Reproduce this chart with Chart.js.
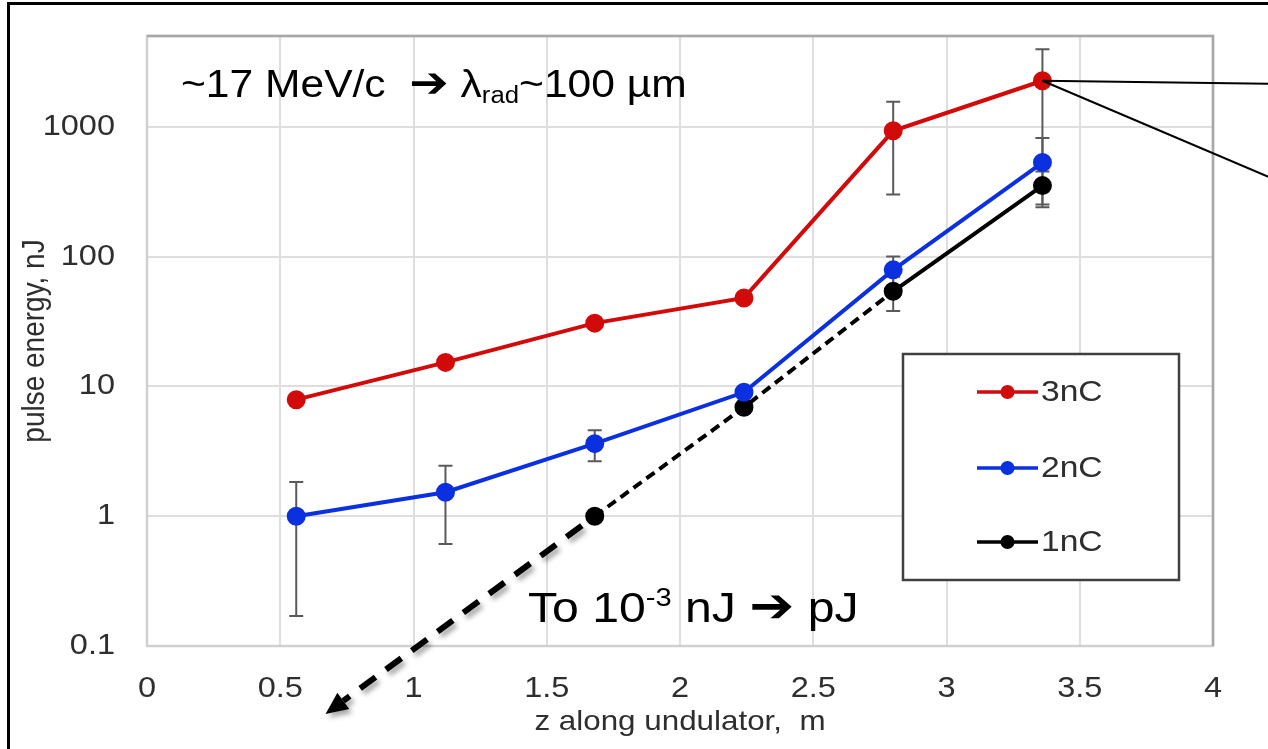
<!DOCTYPE html>
<html>
<head>
<meta charset="utf-8">
<script src="https://cdn.jsdelivr.net/npm/chart.js@4.4.1/dist/chart.umd.min.js"></script>
<style>
  html, body { margin: 0; padding: 0; background: #fff; }
  #wrap { position: relative; width: 1268px; height: 749px; }
</style>
</head>
<body>
<div id="wrap"><canvas id="chart" width="1268" height="749"></canvas></div>
<script>
// positions along the undulator (m)
const zValues = [0.56, 1.12, 1.68, 2.24, 2.80, 3.36];
const z1nC = [1.68, 2.24, 2.80, 3.36];

// pulse energy (nJ) and error bars
const energy3nC = [7.9, 15.3, 30.7, 48, 930, 2260];
const energy2nC = [1.0, 1.53, 3.62, 9.0, 79, 530];
const energy1nC = [1.0, 6.9, 54, 352];
const err3nC = [0, 0, 0, 0, 630, 1700];
const err2nC = [0.83, 0.92, 0.97, 0, 21, 290];
const err1nC = [0, 0, 16, 100];

const seriesLabels = ['3nC', '2nC', '1nC'];
const seriesColors = ['#d20a0a', '#0a30e0', '#000000'];

const xTicks = [0, 0.5, 1, 1.5, 2, 2.5, 3, 3.5, 4];
const yTicks = [0.1, 1, 10, 100, 1000];

// annotation anchors (data coordinates)
const extrapFrom = { x: 1.68, y: 1 };
const extrapTo = { x: 0.67, y: 0.03 };
const calloutEnds = [{ x: 4.21, y: 2140 }, { x: 4.21, y: 410 }];

const FONT = '"Liberation Sans", Arial, sans-serif';
const ARROW_FONT = '"DejaVu Sans", sans-serif';
const TEXT_STRETCH = 1.12;   // the source picture is slightly wider than tall
const AXIS_TEXT = '#2e2e2e';

const canvas = document.getElementById('chart');
const ctx2d = canvas.getContext('2d');
// stretch all text horizontally a bit, around its anchor point
const rawFillText = ctx2d.fillText.bind(ctx2d);
ctx2d.fillText = function (text, x, y, maxWidth) {
  const m = ctx2d.getTransform();
  const px = m.a * x + m.c * y + m.e;
  ctx2d.save();
  ctx2d.setTransform(new DOMMatrix([TEXT_STRETCH, 0, 0, 1, px * (1 - TEXT_STRETCH), 0]).multiply(m));
  if (maxWidth === undefined) rawFillText(text, x, y);
  else rawFillText(text, x, y, maxWidth);
  ctx2d.restore();
};

function toPoints(xs, ys) {
  return xs.map((x, i) => ({ x: x, y: ys[i] }));
}

function drawRuns(ctx, x, y, runs) {
  let cx = x;
  for (const r of runs) {
    ctx.font = (r.bold ? 'bold ' : '') + r.size + 'px ' + (r.family || FONT);
    ctx.fillText(r.text, cx, y - (r.raise || 0));
    cx += ctx.measureText(r.text).width * TEXT_STRETCH;
  }
}

const annotations = {
  id: 'annotations',
  beforeDatasetsDraw(chart) {
    const { ctx, chartArea: a, scales: { x, y } } = chart;
    ctx.save();
    // plot area frame
    ctx.lineWidth = 2.5;
    ctx.strokeStyle = '#d0d0d0';
    ctx.strokeRect(a.left, a.top, a.right - a.left, a.bottom - a.top);
    ctx.strokeStyle = '#a8a8a8';
    ctx.beginPath();
    ctx.moveTo(a.left, a.top);
    ctx.lineTo(a.right, a.top);
    ctx.lineTo(a.right, a.bottom);
    ctx.stroke();

    // error bars
    ctx.strokeStyle = '#5a5a5a';
    ctx.lineWidth = 2;
    chart.data.datasets.forEach(ds => {
      ds.data.forEach((p, i) => {
        const e = ds.errors[i];
        if (!e) return;
        const px = x.getPixelForValue(p.x);
        const top = y.getPixelForValue(p.y + e);
        const bot = y.getPixelForValue(p.y - e);
        ctx.beginPath();
        ctx.moveTo(px, top); ctx.lineTo(px, bot);
        ctx.moveTo(px - 7, top); ctx.lineTo(px + 7, top);
        ctx.moveTo(px - 7, bot); ctx.lineTo(px + 7, bot);
        ctx.stroke();
      });
    });

    // extrapolation arrow with shadow
    const x0 = x.getPixelForValue(extrapFrom.x), y0 = y.getPixelForValue(extrapFrom.y);
    const x1 = x.getPixelForValue(extrapTo.x), y1 = y.getPixelForValue(extrapTo.y);
    const ang = Math.atan2(y1 - y0, x1 - x0);
    const c = Math.cos(ang), s = Math.sin(ang);
    const head = 22;
    const bx = x1 - c * head, by = y1 - s * head;
    ctx.shadowColor = 'rgba(0,0,0,0.35)';
    ctx.shadowBlur = 5;
    ctx.shadowOffsetX = 3;
    ctx.shadowOffsetY = 4;
    ctx.strokeStyle = '#000';
    ctx.fillStyle = '#000';
    ctx.lineWidth = 6;
    ctx.setLineDash([19, 13]);
    ctx.beginPath();
    ctx.moveTo(x0 + c * 16, y0 + s * 16);
    ctx.lineTo(bx, by);
    ctx.stroke();
    ctx.setLineDash([]);
    ctx.beginPath();
    ctx.moveTo(x1, y1);
    ctx.lineTo(bx - s * 10, by + c * 10);
    ctx.lineTo(bx + s * 10, by - c * 10);
    ctx.closePath();
    ctx.fill();
    ctx.restore();
  },
  afterDatasetsDraw(chart) {
    const { ctx, scales: { x, y } } = chart;
    const last = chart.data.datasets[0].data[zValues.length - 1];
    const px = x.getPixelForValue(last.x), py = y.getPixelForValue(last.y);
    ctx.save();
    ctx.strokeStyle = '#000';
    ctx.lineWidth = 2;
    calloutEnds.forEach(end => {
      ctx.beginPath();
      ctx.moveTo(px, py);
      ctx.lineTo(x.getPixelForValue(end.x), y.getPixelForValue(end.y));
      ctx.stroke();
    });
    ctx.restore();
  },
  afterDraw(chart) {
    const { ctx } = chart;
    ctx.save();

    // legend
    const box = { left: 903, top: 354, right: 1179, bottom: 580 };
    const rowY = [392, 468, 542];
    ctx.fillStyle = '#fff';
    ctx.fillRect(box.left, box.top, box.right - box.left, box.bottom - box.top);
    ctx.strokeStyle = '#404040';
    ctx.lineWidth = 2.5;
    ctx.strokeRect(box.left, box.top, box.right - box.left, box.bottom - box.top);
    chart.data.datasets.forEach((ds, i) => {
      ctx.strokeStyle = ds.borderColor;
      ctx.fillStyle = ds.borderColor;
      ctx.lineWidth = 3.5;
      ctx.beginPath();
      ctx.moveTo(977, rowY[i]); ctx.lineTo(1038, rowY[i]);
      ctx.stroke();
      ctx.beginPath();
      ctx.arc(1007.5, rowY[i], 7, 0, Math.PI * 2);
      ctx.fill();
      ctx.fillStyle = AXIS_TEXT;
      ctx.font = '30px ' + FONT;
      ctx.textAlign = 'left';
      ctx.textBaseline = 'middle';
      ctx.fillText(ds.label, 1041, rowY[i] + 1);
    });

    // text annotations
    ctx.fillStyle = '#000';
    ctx.textAlign = 'left';
    ctx.textBaseline = 'alphabetic';
    drawRuns(ctx, 181, 97, [
      { text: '~17 MeV/c  ', size: 38 },
      { text: '\u2794', size: 42, family: ARROW_FONT, raise: 0 },
      { text: ' \u03bb', size: 38 },
      { text: 'rad', size: 23, raise: -6 },
      { text: '~100 \u00b5m', size: 38 }
    ]);
    drawRuns(ctx, 528, 622, [
      { text: 'To 10', size: 43 },
      { text: '-3', size: 26, raise: 16 },
      { text: ' nJ ', size: 43 },
      { text: '\u2794', size: 48, family: ARROW_FONT, raise: 0 },
      { text: ' pJ', size: 43 }
    ]);

    // outer slide frame
    ctx.strokeStyle = '#000';
    ctx.lineWidth = 3;
    ctx.strokeRect(8.5, 3.5, 1400, 900);
    ctx.restore();
  }
};

function lineSet(i, xs, ys, errs, extra) {
  return Object.assign({
    label: seriesLabels[i],
    data: toPoints(xs, ys),
    errors: errs,
    borderColor: seriesColors[i],
    backgroundColor: seriesColors[i],
    pointBackgroundColor: seriesColors[i],
    pointBorderColor: seriesColors[i],
    borderWidth: 4,
    pointRadius: 7.5,
    pointHoverRadius: 7.5,
    tension: 0,
    fill: false
  }, extra || {});
}

new Chart(ctx2d, {
  type: 'line',
  data: {
    datasets: [
      lineSet(0, zValues, energy3nC, err3nC),
      lineSet(1, zValues, energy2nC, err2nC),
      lineSet(2, z1nC, energy1nC, err1nC, {
        segment: { borderDash: c => (c.p1DataIndex <= 2 ? [10, 6] : undefined) }
      })
    ]
  },
  options: {
    responsive: false,
    devicePixelRatio: 1,
    animation: false,
    layout: { padding: { top: 36, right: 55, left: 0, bottom: 0 } },
    plugins: { legend: { display: false }, tooltip: { enabled: false } },
    scales: {
      x: {
        type: 'linear',
        min: 0,
        max: 4,
        afterBuildTicks: s => { s.ticks = xTicks.map(v => ({ value: v })); },
        afterFit: s => { s.height = 103; s.paddingLeft = 0; s.paddingRight = 0; },
        grid: { color: '#dedede', lineWidth: 2, drawTicks: false },
        border: { display: false },
        ticks: {
          color: AXIS_TEXT,
          padding: 26,
          font: { family: FONT, size: 29 },
          callback: v => String(v)
        },
        title: {
          display: true,
          text: 'z along undulator,  m',
          color: AXIS_TEXT,
          font: { family: FONT, size: 28 },
          padding: { top: 0, bottom: 10 }
        }
      },
      y: {
        type: 'logarithmic',
        min: 0.1,
        max: 5000,
        afterBuildTicks: s => { s.ticks = yTicks.map(v => ({ value: v })); },
        afterFit: s => { s.width = 147; s.paddingTop = 0; s.paddingBottom = 0; },
        grid: { color: '#dedede', lineWidth: 2, drawTicks: false },
        border: { display: false },
        ticks: {
          color: AXIS_TEXT,
          padding: 32,
          font: { family: FONT, size: 29 },
          callback: v => String(v)
        },
        title: {
          display: true,
          text: 'pulse energy, nJ',
          color: AXIS_TEXT,
          font: { family: FONT, size: 28 },
          padding: { top: 19, bottom: 0 }
        }
      }
    }
  },
  plugins: [annotations]
});
</script>
</body>
</html>
